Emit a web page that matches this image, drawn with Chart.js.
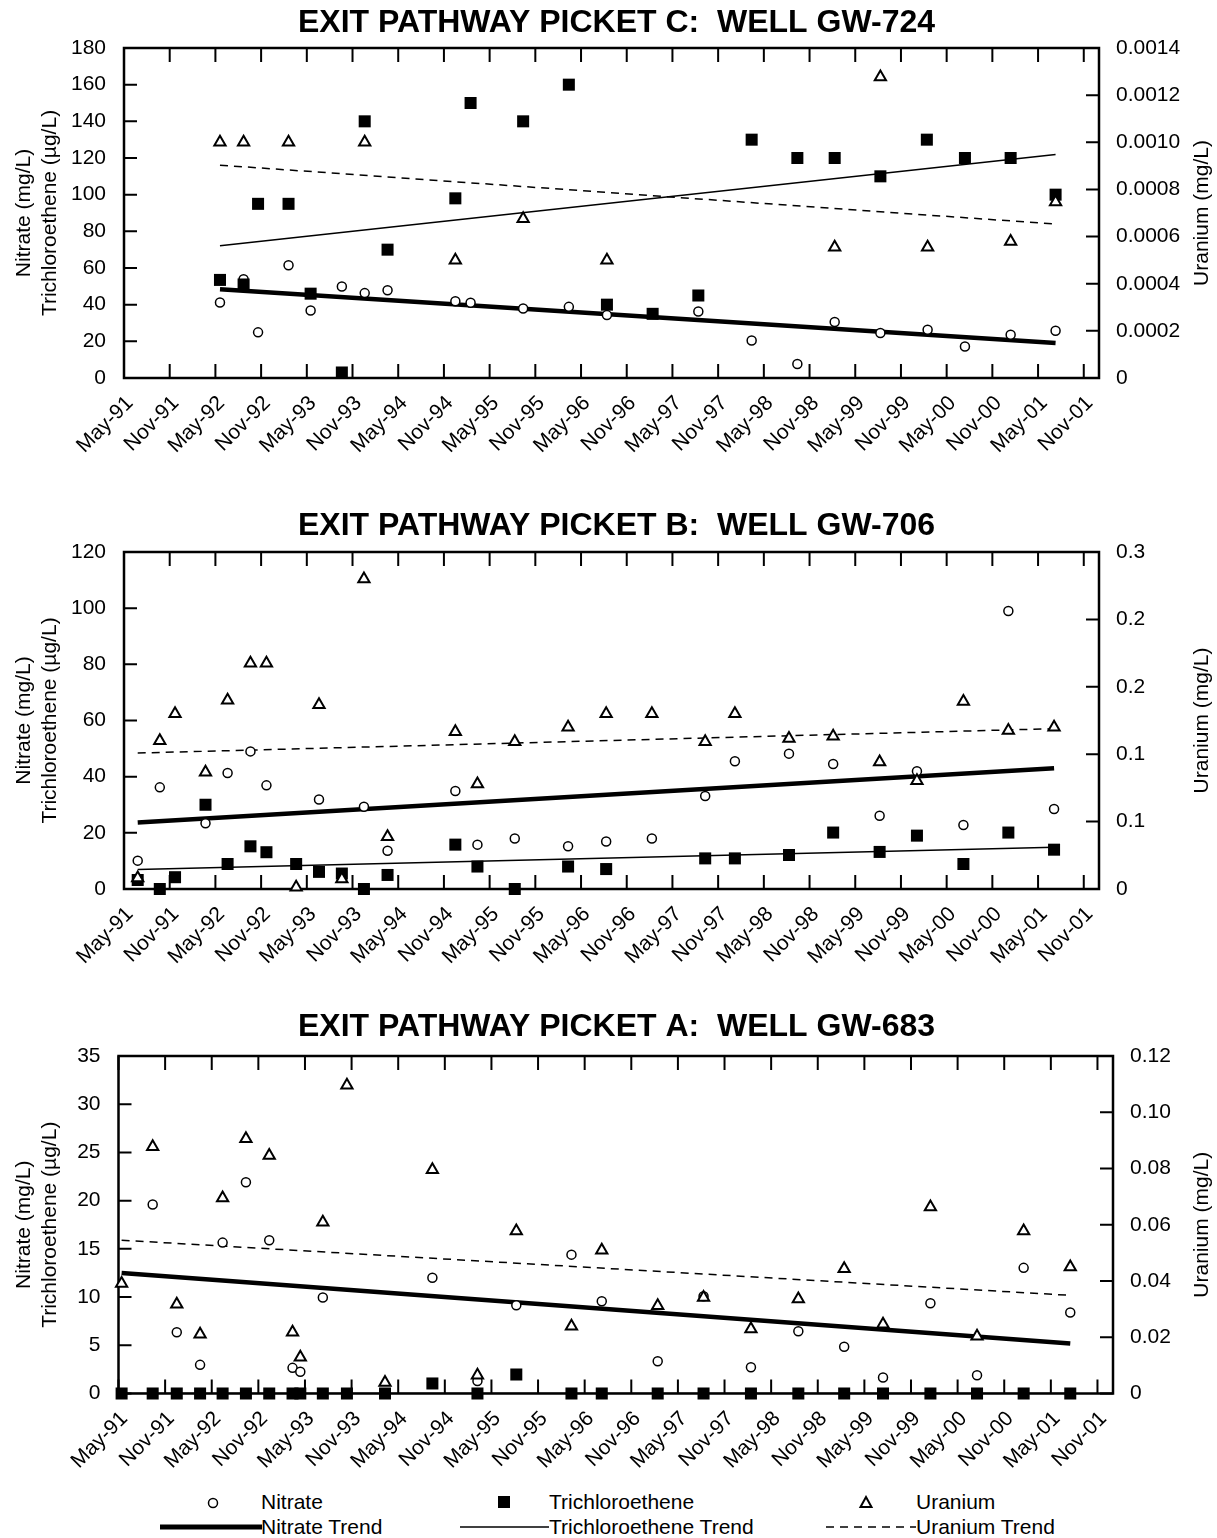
<!DOCTYPE html>
<html>
<head>
<meta charset="utf-8">
<script src="https://cdn.jsdelivr.net/npm/chart.js@4.4.0/dist/chart.umd.min.js"></script>
<style>
  body { margin: 0; background: #fff; font-family: "Liberation Sans", Arial, sans-serif; color: #000; }
  #page { position: relative; width: 1217px; height: 1538px; overflow: hidden; }
  canvas { position: absolute; left: 0; }
  .leg-text { position: absolute; font-size: 21px; line-height: 24px; white-space: nowrap; }
  .leg-mark { position: absolute; }
</style>
</head>
<body>
<div id="page">
  <canvas id="chartC" width="1217" height="470" style="top:0px"></canvas>
  <canvas id="chartB" width="1217" height="470" style="top:500px"></canvas>
  <canvas id="chartA" width="1217" height="482" style="top:1000px"></canvas>

  <!-- legend -->
  <svg class="leg-mark" style="left:206px;top:1496px" width="14" height="14"><circle cx="7" cy="7" r="4.5" fill="#fff" stroke="#000" stroke-width="1.5"/></svg>
  <div class="leg-text" style="left:261px;top:1490px">Nitrate</div>
  <svg class="leg-mark" style="left:497px;top:1495px" width="14" height="14"><rect x="1" y="1" width="12" height="12" fill="#000"/></svg>
  <div class="leg-text" style="left:549px;top:1490px">Trichloroethene</div>
  <svg class="leg-mark" style="left:858px;top:1495px" width="16" height="14"><polygon points="8,2 13.5,12 2.5,12" fill="#fff" stroke="#000" stroke-width="2"/></svg>
  <div class="leg-text" style="left:916px;top:1490px">Uranium</div>

  <svg class="leg-mark" style="left:160px;top:1521px" width="102" height="12"><line x1="0" y1="6" x2="102" y2="6" stroke="#000" stroke-width="5"/></svg>
  <div class="leg-text" style="left:261px;top:1515px">Nitrate Trend</div>
  <svg class="leg-mark" style="left:460px;top:1521px" width="89" height="12"><line x1="0" y1="6" x2="89" y2="6" stroke="#000" stroke-width="1.5"/></svg>
  <div class="leg-text" style="left:549px;top:1515px">Trichloroethene Trend</div>
  <svg class="leg-mark" style="left:826px;top:1521px" width="90" height="12"><line x1="0" y1="6" x2="90" y2="6" stroke="#000" stroke-width="1.5" stroke-dasharray="8,6"/></svg>
  <div class="leg-text" style="left:916px;top:1515px">Uranium Trend</div>
</div>

<script>
// x axis: months since May-91, tick every 6 months
const xTickLabels = ["May-91", "Nov-91", "May-92", "Nov-92", "May-93", "Nov-93", "May-94", "Nov-94",
  "May-95", "Nov-95", "May-96", "Nov-96", "May-97", "Nov-97", "May-98", "Nov-98", "May-99", "Nov-99",
  "May-00", "Nov-00", "May-01", "Nov-01"];

// ---- Picket C : GW-724 ----
const cNitrateMonths = [12.6, 15.7, 17.6, 21.6, 24.5, 28.6, 31.6, 34.6, 43.5, 45.5, 52.4, 58.4, 63.4,
  75.4, 82.4, 88.4, 93.3, 99.3, 105.5, 110.4, 116.4, 122.3];
const cNitrate = [41.2, 53.9, 24.9, 61.5, 36.8, 49.9, 46.3, 47.9, 41.9, 41.0, 37.9, 38.8, 34.3,
  36.3, 20.5, 7.6, 30.5, 24.5, 26.3, 17.2, 23.6, 25.8];
const cTceMonths = [12.6, 15.7, 17.6, 21.6, 24.5, 28.6, 31.6, 34.6, 43.5, 45.5, 52.4, 58.4, 63.4,
  69.4, 75.4, 82.4, 88.4, 93.3, 99.3, 105.4, 110.4, 116.4, 122.3];
const cTce = [53.5, 51, 95, 95, 46, 3, 140, 70, 98, 150, 140, 160, 40,
  35, 45, 130, 120, 120, 110, 130, 120, 120, 100];
const cUranMonths = [12.6, 15.7, 21.6, 31.6, 43.5, 52.4, 63.4, 93.3, 99.3, 105.5, 116.4, 122.3];
const cUran = [0.001, 0.001, 0.001, 0.001, 0.0005, 0.000676, 0.0005, 0.000555, 0.001277, 0.000555, 0.000579, 0.000747];
const cTrendMonths = [12.6, 122.3];
const cNitrateTrend = [48.4, 19.1];
const cTceTrend = [72.2, 121.9];
const cUranTrend = [0.000903, 0.000653];
const cLeftTicks = [0, 20, 40, 60, 80, 100, 120, 140, 160, 180];
const cRightTicks = [0, 0.0002, 0.0004, 0.0006, 0.0008, 0.0010, 0.0012, 0.0014];
const cRightTickLabels = ["0", "0.0002", "0.0004", "0.0006", "0.0008", "0.0010", "0.0012", "0.0014"];

// ---- Picket B : GW-706 ----
const bNitrateMonths = [1.8, 4.7, 10.7, 13.6, 16.6, 18.7, 25.6, 31.5, 34.6, 43.5, 46.4, 51.3, 58.3, 63.3,
  69.3, 76.3, 80.2, 87.3, 93.1, 99.2, 104.1, 110.2, 116.1, 122.1];
const bNitrate = [10.1, 36.2, 23.4, 41.3, 49.0, 36.9, 31.9, 29.3, 13.6, 34.9, 15.8, 18.0, 15.2, 16.9,
  18.0, 33.1, 45.5, 48.2, 44.5, 26.1, 41.9, 22.8, 99.0, 28.5];
const bTceMonths = [1.8, 4.7, 6.7, 10.7, 13.6, 16.6, 18.7, 22.6, 25.6, 28.6, 31.5, 34.6, 43.5, 46.4, 51.3,
  58.3, 63.3, 76.3, 80.2, 87.3, 93.1, 99.2, 104.1, 110.2, 116.1, 122.1];
const bTce = [3.2, 0, 4.2, 30.0, 8.9, 15.2, 13.1, 8.9, 6.1, 5.5, 0, 5.0, 15.8, 8.0, 0,
  8.0, 7.1, 10.9, 10.9, 12.1, 20.1, 13.2, 19.0, 8.9, 20.1, 14.0];
const bUranMonths = [1.8, 4.7, 6.7, 10.7, 13.6, 16.6, 18.7, 22.6, 25.6, 28.6, 31.5, 34.6, 43.5, 46.4,
  51.3, 58.3, 63.3, 69.3, 76.3, 80.2, 87.3, 93.1, 99.2, 104.1, 110.2, 116.1, 122.1];
const bUran = [0.0098, 0.132, 0.156, 0.104, 0.168, 0.201, 0.201, 0.0015, 0.164, 0.0089, 0.276, 0.0466, 0.140, 0.0935,
  0.131, 0.144, 0.156, 0.156, 0.131, 0.156, 0.134, 0.136, 0.113, 0.0964, 0.167, 0.141, 0.144];
const bTrendMonths = [1.8, 122.1];
const bNitrateTrend = [23.7, 43.0];
const bTceTrend = [6.9, 14.9];
const bUranTrend = [0.121, 0.1427];
const bLeftTicks = [0, 20, 40, 60, 80, 100, 120];
const bRightTicks = [0, 0.06, 0.12, 0.18, 0.24, 0.3];
const bRightTickLabels = ["0", "0.1", "0.1", "0.2", "0.2", "0.3"];

// ---- Picket A : GW-683 ----
const aNitrateMonths = [4.4, 7.5, 10.5, 13.4, 16.4, 19.4, 22.4, 23.4, 26.3, 40.4, 46.2, 51.2, 58.3, 62.2,
  69.4, 75.3, 81.4, 87.5, 93.4, 98.4, 104.5, 110.5, 116.5, 122.5];
const aNitrate = [19.6, 6.36, 2.97, 15.65, 21.9, 15.9, 2.66, 2.25, 9.95, 12.0, 1.3, 9.16, 14.4, 9.57,
  3.35, 10.09, 2.73, 6.46, 4.84, 1.66, 9.36, 1.90, 13.03, 8.40];
const aTceMonths = [0.4, 4.4, 7.5, 10.5, 13.4, 16.4, 19.4, 22.4, 23.4, 26.3, 29.4, 34.3, 40.4, 46.2, 51.2,
  58.3, 62.2, 69.4, 75.3, 81.4, 87.5, 93.4, 98.4, 104.5, 110.5, 116.5, 122.5];
const aTce = [0, 0, 0, 0, 0, 0, 0, 0, 0, 0, 0, 0, 1.04, 0, 1.97,
  0, 0, 0, 0, 0, 0, 0, 0, 0, 0, 0, 0];
const aUranMonths = [0.4, 4.4, 7.5, 10.5, 13.4, 16.4, 19.4, 22.4, 23.4, 26.3, 29.4, 34.3, 40.4, 46.2, 51.2,
  58.3, 62.2, 69.4, 75.3, 81.4, 87.5, 93.4, 98.4, 104.5, 110.5, 116.5, 122.5];
const aUran = [0.0391, 0.0877, 0.0317, 0.0211, 0.0695, 0.0906, 0.0846, 0.0218, 0.0129, 0.0609, 0.1096, 0.0039,
  0.0796, 0.0065, 0.0578, 0.0239, 0.0509, 0.0312, 0.0341, 0.0229, 0.0336, 0.0444, 0.0246, 0.0663, 0.0204,
  0.0578, 0.0450];
const aTrendMonths = [0.4, 122.5];
const aNitrateTrend = [12.5, 5.18];
const aTceTrend = [0, 0];
const aUranTrend = [0.0545, 0.0349];
const aLeftTicks = [0, 5, 10, 15, 20, 25, 30, 35];
const aRightTicks = [0, 0.02, 0.04, 0.06, 0.08, 0.10, 0.12];
const aRightTickLabels = ["0", "0.02", "0.04", "0.06", "0.08", "0.10", "0.12"];

Chart.defaults.font.family = '"Liberation Sans", Arial, sans-serif';
Chart.defaults.color = "#000";

const toPoints = (months, values) => months.map((m, i) => ({ x: m, y: values[i] }));
const padLeft = 16; // shifts the centred title to the right a little

// box, inward tick marks and right-hand axis title
const framePlugin = {
  id: "frame",
  beforeDatasetsDraw(chart, args, opts) {
    const { ctx, chartArea: a, scales } = chart;
    ctx.save();
    ctx.strokeStyle = "#000";
    ctx.lineWidth = 2;
    ctx.beginPath();
    scales.x.ticks.forEach((t) => {
      const px = scales.x.getPixelForValue(t.value);
      ctx.moveTo(px, a.bottom);
      ctx.lineTo(px, a.bottom - 14);
      ctx.moveTo(px, a.top);
      ctx.lineTo(px, a.top + 14);
    });
    scales.y.ticks.forEach((t) => {
      const py = scales.y.getPixelForValue(t.value);
      ctx.moveTo(a.left, py);
      ctx.lineTo(a.left + 13, py);
    });
    scales.y2.ticks.forEach((t) => {
      const py = scales.y2.getPixelForValue(t.value);
      ctx.moveTo(a.right, py);
      ctx.lineTo(a.right - 13, py);
    });
    ctx.stroke();
    ctx.lineWidth = 2.5;
    ctx.strokeRect(a.left, a.top, a.right - a.left, a.bottom - a.top);

    ctx.font = '21px "Liberation Sans", Arial, sans-serif';
    ctx.fillStyle = "#000";
    ctx.translate(chart.width - opts.rightTitleOffset, (a.top + a.bottom) / 2);
    ctx.rotate(-Math.PI / 2);
    ctx.textAlign = "center";
    ctx.textBaseline = "middle";
    ctx.fillText(opts.rightTitle, 0, 0);
    ctx.restore();
  },
};

function makePanel(id, p) {
  const scatter = (label, pts, style, r, bw, fill, axis, order) => ({
    type: "scatter",
    label,
    data: pts,
    yAxisID: axis,
    pointStyle: style,
    pointRadius: r,
    pointHoverRadius: r,
    pointBorderWidth: bw,
    pointBackgroundColor: fill,
    pointBorderColor: "#000",
    showLine: false,
    clip: false,
    order,
  });
  const trend = (label, ys, width, dash, axis) => ({
    type: "line",
    label,
    data: toPoints(p.trendMonths, ys),
    yAxisID: axis,
    borderColor: "#000",
    borderWidth: width,
    borderDash: dash,
    pointRadius: 0,
    fill: false,
    order: 4,
  });

  return new Chart(document.getElementById(id), {
    type: "scatter",
    data: {
      datasets: [
        scatter("Uranium", toPoints(p.uranMonths, p.uran), "triangle", 6.5, 2, "#fff", "y2", 0),
        scatter("Trichloroethene", toPoints(p.tceMonths, p.tce), "rect", 8.5, 0, "#000", "y", 1),
        scatter("Nitrate", toPoints(p.nitrateMonths, p.nitrate), "circle", 4.5, 1.5, "#fff", "y", 2),
        trend("Nitrate Trend", p.nitrateTrend, 4.5, [], "y"),
        trend("Trichloroethene Trend", p.tceTrend, 1.5, [], "y"),
        trend("Uranium Trend", p.uranTrend, 1.5, [8, 6], "y2"),
      ],
    },
    options: {
      responsive: false,
      animation: false,
      layout: { padding: { left: padLeft, right: 0, top: 0, bottom: 0 } },
      plugins: {
        legend: { display: false },
        tooltip: { enabled: false },
        title: {
          display: true,
          text: p.title,
          font: { size: 32, weight: "bold" },
          color: "#000",
          padding: p.titlePad,
        },
        frame: { rightTitle: "Uranium (mg/L)", rightTitleOffset: 15 },
      },
      scales: {
        x: {
          type: "linear",
          min: 0,
          max: 128,
          afterBuildTicks: (s) => {
            s.ticks = xTickLabels.map((_, i) => ({ value: i * 6 }));
          },
          afterFit: (s) => {
            s.height = p.xHeight;
          },
          ticks: {
            autoSkip: false,
            maxRotation: 45,
            minRotation: 45,
            padding: 13,
            labelOffset: 6,
            font: { size: 21 },
            color: "#000",
            callback: (v) => xTickLabels[Math.round(v / 6)],
          },
          grid: { display: false, drawTicks: false },
          border: { display: false },
        },
        y: {
          position: "left",
          min: 0,
          max: p.leftTicks[p.leftTicks.length - 1],
          afterBuildTicks: (s) => {
            s.ticks = p.leftTicks.map((v) => ({ value: v }));
          },
          afterFit: (s) => {
            s.width = p.leftW - padLeft;
          },
          ticks: { padding: 18, font: { size: 21 }, color: "#000", callback: (v) => String(v) },
          grid: { display: false, drawTicks: false },
          border: { display: false },
          title: {
            display: true,
            text: ["Nitrate (mg/L)", "Trichloroethene (\u00b5g/L)"],
            font: { size: 21 },
            color: "#000",
            padding: { top: 12 - padLeft, bottom: 0 },
          },
        },
        y2: {
          position: "right",
          min: 0,
          max: p.rightTicks[p.rightTicks.length - 1],
          afterBuildTicks: (s) => {
            s.ticks = p.rightTicks.map((v) => ({ value: v }));
          },
          afterFit: (s) => {
            s.width = p.rightW;
          },
          ticks: {
            padding: 17,
            font: { size: 21 },
            color: "#000",
            callback: (v, i) => p.rightTickLabels[i],
          },
          grid: { display: false, drawTicks: false },
          border: { display: false },
        },
      },
    },
    plugins: [framePlugin],
  });
}

makePanel("chartC", {
  title: "EXIT PATHWAY PICKET C:  WELL GW-724",
  titlePad: { top: 4, bottom: 5.6 },
  xHeight: 92,
  leftW: 124,
  rightW: 118,
  nitrateMonths: cNitrateMonths, nitrate: cNitrate,
  tceMonths: cTceMonths, tce: cTce,
  uranMonths: cUranMonths, uran: cUran,
  trendMonths: cTrendMonths,
  nitrateTrend: cNitrateTrend, tceTrend: cTceTrend, uranTrend: cUranTrend,
  leftTicks: cLeftTicks, rightTicks: cRightTicks, rightTickLabels: cRightTickLabels,
});

makePanel("chartB", {
  title: "EXIT PATHWAY PICKET B:  WELL GW-706",
  titlePad: { top: 7, bottom: 6.6 },
  xHeight: 81,
  leftW: 124,
  rightW: 118,
  nitrateMonths: bNitrateMonths, nitrate: bNitrate,
  tceMonths: bTceMonths, tce: bTce,
  uranMonths: bUranMonths, uran: bUran,
  trendMonths: bTrendMonths,
  nitrateTrend: bNitrateTrend, tceTrend: bTceTrend, uranTrend: bUranTrend,
  leftTicks: bLeftTicks, rightTicks: bRightTicks, rightTickLabels: bRightTickLabels,
});

makePanel("chartA", {
  title: "EXIT PATHWAY PICKET A:  WELL GW-683",
  titlePad: { top: 8, bottom: 9.6 },
  xHeight: 88.5,
  leftW: 118.5,
  rightW: 104,
  nitrateMonths: aNitrateMonths, nitrate: aNitrate,
  tceMonths: aTceMonths, tce: aTce,
  uranMonths: aUranMonths, uran: aUran,
  trendMonths: aTrendMonths,
  nitrateTrend: aNitrateTrend, tceTrend: aTceTrend, uranTrend: aUranTrend,
  leftTicks: aLeftTicks, rightTicks: aRightTicks, rightTickLabels: aRightTickLabels,
});
</script>
</body>
</html>
